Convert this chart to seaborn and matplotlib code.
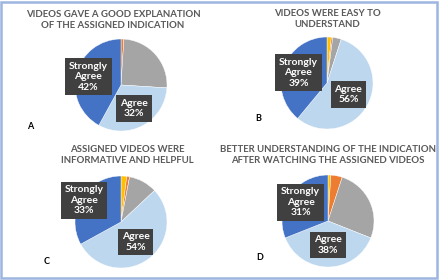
import numpy as np
import matplotlib
matplotlib.use("Agg")
import matplotlib.pyplot as plt
import seaborn as sns
from matplotlib.patches import Rectangle

sns.set_theme(style="white")
plt.rcParams['font.family'] = ['Lato', 'DejaVu Sans']

# response categories, drawn clockwise from 12 o'clock
categories = ["Strongly Disagree", "Disagree", "Neutral", "Agree", "Strongly Agree"]
panel_a = [0, 1, 25, 32, 42]
panel_b = [1.5, 0.5, 3, 56, 39]
panel_c = [2, 1, 10, 54, 33]
panel_d = [1, 4, 26, 38, 31]
titles = [
    "VIDEOS GAVE A GOOD EXPLANATION\nOF THE ASSIGNED INDICATION",
    "VIDEOS WERE EASY TO\nUNDERSTAND",
    "ASSIGNED VIDEOS WERE\nINFORMATIVE AND HELPFUL",
    "BETTER UNDERSTANDING OF THE INDICATION\nAFTER WATCHING THE ASSIGNED VIDEOS",
]
letters = ["A", "B", "C", "D"]

colors = ["#FFC000", "#ED7D31", "#A5A5A5", "#BDD7EE", "#4472C4"]

W, H = 440, 280
fig = plt.figure(figsize=(W / 100, H / 100), dpi=100)

# layout in pixels: pie centre, title centre, letter position, label radii
centres = [(121, 85), (327, 83), (121, 222), (328, 221)]
title_xy = [(113, 20), (327, 19), (127, 155), (328, 155)]
letter_xy = [(30, 127), (258, 118), (47, 262), (260, 257)]
label_r = [(0.59, 0.73), (0.53, 0.66), (0.54, 0.93), (0.52, 0.72)]
R = 46

for vals, title, letter, (cx, cy), (tx, ty), (lx, ly), (ra, rs) in zip(
        [panel_a, panel_b, panel_c, panel_d], titles, letters,
        centres, title_xy, letter_xy, label_r):
    ax = fig.add_axes([(cx - R) / W, 1 - (cy + R) / H, 2 * R / W, 2 * R / H])
    wedges, _ = ax.pie(vals, colors=colors, startangle=90, counterclock=False,
                       wedgeprops=dict(edgecolor="white", linewidth=0.3))
    ax.set_xlim(-1, 1)
    ax.set_ylim(-1, 1)
    for w, name, r in [(wedges[3], "Agree", ra), (wedges[4], "Strongly\nAgree", rs)]:
        ang = np.deg2rad((w.theta1 + w.theta2) / 2)
        pct = vals[categories.index(name.replace("\n", " "))]
        ax.text(r * np.cos(ang), r * np.sin(ang), f"{name}\n{pct:.0f}%",
                ha="center", va="center", color="white", fontsize=7.5,
                fontweight="bold", linespacing=1.2,
                bbox=dict(boxstyle="square,pad=0.35", fc="#404040", ec="none"))
    fig.text(tx / W, 1 - ty / H, title, ha="center", va="center",
             fontsize=6.9, fontweight="bold", color="#595959", linespacing=1.3)
    fig.text(lx / W, 1 - ly / H, letter, ha="center", va="center",
             fontsize=6.5, fontweight="bold", color="black")

fig.patches.append(Rectangle((0.003, 0.006), 0.99, 0.988, transform=fig.transFigure,
                             fill=False, ec="#9DB5E0", lw=1.8))

fig.savefig("out.png", dpi=100)
